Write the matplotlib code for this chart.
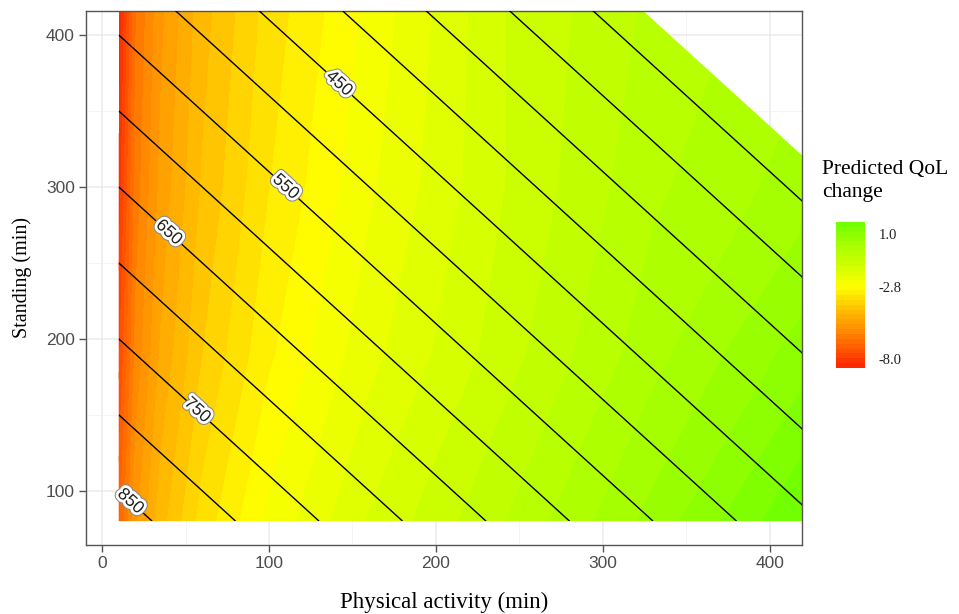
import numpy as np
import matplotlib.pyplot as plt
import matplotlib.patheffects as pe
from matplotlib.colors import LinearSegmentedColormap
from matplotlib.patches import Polygon

plt.rcParams['axes.unicode_minus'] = False

# grid
pa_min = [10, 20, 35, 60, 100, 160, 240, 330, 420]
standing_min = [80, 190, 300, 420]
qol_change = [
    [-7.0, -5.6, -4.6, -3.6, -2.6, -1.6, -0.6, 0.6, 1.88],
    [-7.7, -6.1, -5.1, -4.1, -3.1, -2.1, -1.1, 0.0, 1.0],
    [-8.2, -6.4, -5.4, -4.4, -3.4, -2.4, -1.3, -0.3, 0.3],
    [-8.65, -6.6, -5.6, -4.6, -3.6, -2.6, -1.3, -0.5, 0.0],
]

# sedentary time lines (awake time minus PA and standing)
awake_min = 960
sed_floor = 220
sed_levels = list(range(250, 851, 50))
label_sed = [450, 550, 650, 750, 850]
label_pa = [142, 110, 40, 57, 17]

cbar_ticks = [1.0, -2.8, -8.0]
cmap_vals = [-8.65, -6.0, -4.3, -2.8, -1.0, 0.5, 1.88]
cmap_cols = ['#ff2200', '#ff8a00', '#ffc400', '#ffff00', '#c8ff00', '#a0ff00', '#6cff00']

PA, ST = np.meshgrid(pa_min, standing_min)
Z = np.array(qol_change)
SED = awake_min - PA - ST

zmin, zmax = Z.min(), Z.max()
pos = [(v - zmin) / (zmax - zmin) for v in cmap_vals]
cmap = LinearSegmentedColormap.from_list('qol', list(zip(pos, cmap_cols)))

fig = plt.figure(figsize=(9.59, 6.14), dpi=100)
ax = fig.add_axes([86 / 959, 1 - 545 / 614, 716 / 959, 534 / 614])

levels = np.linspace(zmin, zmax, 31)
cf = ax.contourf(PA, ST, Z, levels=levels, cmap=cmap, zorder=2)
cl = ax.contour(PA, ST, SED, levels=sed_levels, colors='black', linewidths=1.0, zorder=3)

corner = awake_min - sed_floor
clip = Polygon([(10, 80), (420, 80), (420, corner - 420), (corner - 420, 420), (10, 420)],
               closed=True, transform=ax.transData, facecolor='none', edgecolor='none')
cf.set_clip_path(clip)
cl.set_clip_path(clip)

halo = [pe.Stroke(linewidth=5.5, foreground='#8a8a8a'), pe.Stroke(linewidth=4, foreground='white'), pe.Normal()]
for sed, p in zip(label_sed, label_pa):
    ax.text(p, awake_min - sed - p, str(sed), rotation=-45, transform_rotates_text=True,
            rotation_mode='anchor', ha='center', va='center', fontsize=12.5,
            family='Liberation Sans', color='#222222', path_effects=halo, zorder=4)

ax.set_xlim(-9.6, 419.2)
ax.set_ylim(64.3, 415.8)
ax.set_xticks([0, 100, 200, 300, 400])
ax.set_yticks([100, 200, 300, 400])
ax.set_xticks([50, 150, 250, 350], minor=True)
ax.set_yticks([150, 250, 350], minor=True)
ax.grid(which='major', color='#ebebeb', linewidth=1.1, zorder=0)
ax.grid(which='minor', color='#f2f2f2', linewidth=0.6, zorder=0)
ax.set_axisbelow(True)
ax.tick_params(which='major', length=5, width=1, color='#555555', labelcolor='#4d4d4d', labelsize=12.5, pad=3)
ax.tick_params(which='minor', length=0)
for lab in ax.get_xticklabels() + ax.get_yticklabels():
    lab.set_family('Liberation Sans')
for s in ax.spines.values():
    s.set_color('#555555')
    s.set_linewidth(1)

ax.set_xlabel('Physical activity (min)', family='Liberation Serif', fontsize=16.5, labelpad=15)
ax.set_ylabel('Standing (min)', family='Liberation Serif', fontsize=14.5, labelpad=10)

cax = fig.add_axes([836 / 959, 1 - 368 / 614, 29 / 959, 146 / 614])
cb = fig.colorbar(cf, cax=cax, ticks=cbar_ticks)
cb.outline.set_visible(False)
cb.ax.set_yticklabels(['%.1f' % t for t in cbar_ticks], family='Liberation Serif', fontsize=10.5, color='#222222')
cb.ax.tick_params(length=0, pad=10)

fig.text(822 / 959, 1 - 160 / 614, 'Predicted QoL\nchange', ha='left', va='top',
         family='Liberation Serif', fontsize=15.5, linespacing=1.25)

fig.savefig('out.png', dpi=100)
